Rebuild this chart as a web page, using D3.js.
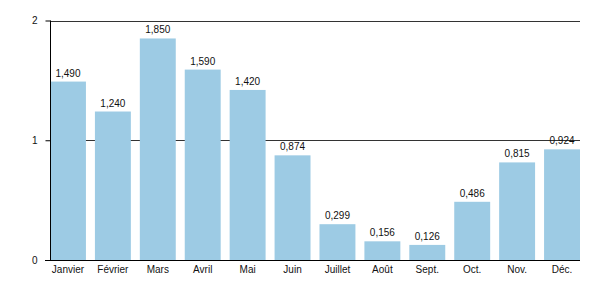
<!DOCTYPE html>
<html><head><meta charset="utf-8">
<script src="https://cdn.jsdelivr.net/npm/d3@7"></script>
<style>body{margin:0;background:#fff;} text{font-family:"Liberation Sans",Arial,sans-serif;}</style>
</head><body><svg id="c" width="600" height="300"></svg>
<script>
const months = ["Janvier","Février","Mars","Avril","Mai","Juin","Juillet","Août","Sept.","Oct.","Nov.","Déc."];
const values = [1.490,1.240,1.850,1.590,1.420,0.874,0.299,0.156,0.126,0.486,0.815,0.924];
const yTicks = [0,1,2];

const svg = d3.select("#c");
const x = d3.scaleBand().domain(months).range([50,580]).paddingInner(0.2).paddingOuter(0);
const y = d3.scaleLinear().domain([0,2]).range([260,20.5]);
const fmt = v => d3.format(".3f")(v).replace(".", ",");

// gridlines
svg.append("g").selectAll("line").data(yTicks.filter(d=>d>0)).join("line")
  .attr("x1",50).attr("x2",580).attr("y1",d=>Math.round(y(d))+0.5).attr("y2",d=>Math.round(y(d))+0.5)
  .attr("stroke","#333").attr("stroke-width",1);

// bars
svg.append("g").selectAll("rect").data(values).join("rect")
  .attr("x",(d,i)=>x(months[i])).attr("width",x.bandwidth())
  .attr("y",d=>y(d)).attr("height",d=>y(0)-y(d))
  .attr("fill","#9dcbe4");

// value labels
svg.append("g").selectAll("text").data(values).join("text")
  .attr("x",(d,i)=>x(months[i])+x.bandwidth()/2).attr("y",d=>y(d)-5)
  .attr("text-anchor","middle").attr("font-size",10).attr("fill","#111")
  .text(d=>fmt(d));

// y axis
const ya = svg.append("g").attr("transform","translate(50.5,0)")
  .call(d3.axisLeft(y).tickValues(yTicks).tickSize(5).tickFormat(d=>d));
ya.select(".domain").attr("d", `M0,${y(2)}V${y(0)}`).attr("stroke","#000");
ya.selectAll("text").attr("font-size",10).attr("fill","#111").attr("x",-13).style("font-family","Liberation Sans, Arial, sans-serif");
ya.selectAll(".tick line").attr("stroke","#000");

// x axis
const xa = svg.append("g").attr("transform",`translate(0,${Math.round(y(0))+0.5})`)
  .call(d3.axisBottom(x).tickSize(0).tickPadding(5));
xa.select(".domain").attr("d","M45,0H580").attr("stroke","#000");
xa.selectAll("text").attr("font-size",10).attr("fill","#111").style("font-family","Liberation Sans, Arial, sans-serif");
</script></body></html>
